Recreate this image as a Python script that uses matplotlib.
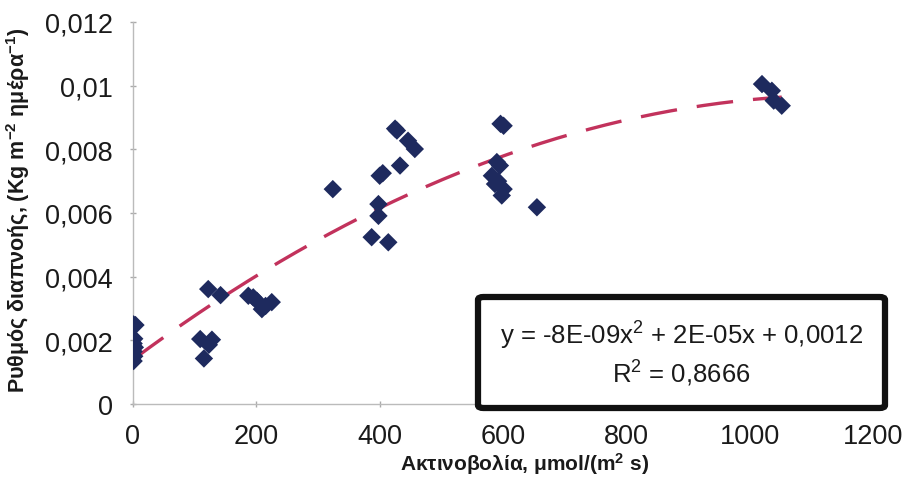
import numpy as np
import matplotlib
matplotlib.use("Agg")
import matplotlib.pyplot as plt
from matplotlib.patches import FancyBboxPatch

plt.rcParams['font.family'] = ['Liberation Sans', 'DejaVu Sans']
plt.rcParams['mathtext.fontset'] = 'custom'
plt.rcParams['mathtext.rm'] = 'Liberation Sans'
plt.rcParams['mathtext.bf'] = 'Liberation Sans:bold'
plt.rcParams['mathtext.default'] = 'regular'

# Radiation (x) and transpiration rate (y)
radiation = [1, 4, 2, 1, 3, 1, 2, 1,
             109, 128, 123, 115, 122, 142,
             187, 195, 201, 209, 215, 225,
             324, 387, 414, 398, 398, 400, 405, 433, 425, 428, 446, 457,
             596, 601, 590, 595, 582, 587, 601, 598, 592, 655,
             1020, 1036, 1039, 1052]
transpiration = [0.00250, 0.00248, 0.00205, 0.00190, 0.00178, 0.00165, 0.00150, 0.00135,
                 0.00204, 0.00202, 0.00186, 0.00143, 0.00361, 0.00342,
                 0.00340, 0.00335, 0.00324, 0.00298, 0.00308, 0.00320,
                 0.00675, 0.00524, 0.00508, 0.00628, 0.00591, 0.00717, 0.00725, 0.00749, 0.00865, 0.00859, 0.00827, 0.00801,
                 0.00880, 0.00874, 0.00760, 0.00749, 0.00717, 0.00691, 0.00675, 0.00655, 0.00700, 0.00618,
                 0.01005, 0.00984, 0.00953, 0.00937]

x_ticks = [0, 200, 400, 600, 800, 1000, 1200]
y_ticks = [0, 0.002, 0.004, 0.006, 0.008, 0.01, 0.012]

equation_text = "y = -8E-09x$^2$ + 2E-05x + 0,0012"
r2_text = "R$^2$ = 0,8666"

W, H = 909, 481
fig = plt.figure(figsize=(W / 100, H / 100), dpi=100)
ax = fig.add_axes([133 / W, 1 - 405 / H, (873 - 133) / W, (405 - 23) / H])

x = np.array(radiation)
y = np.array(transpiration)

coef = np.polyfit(x, y, 2)
xs = np.linspace(x.min(), x.max(), 200)
ax.plot(xs, np.polyval(coef, xs), color='#C2325C', lw=2.4,
        dashes=(11, 6), zorder=2)

ax.scatter(x, y, marker='D', s=88, color='#1E2A5E', edgecolors='none', zorder=3)

ax.set_xlim(0, 1200)
ax.set_ylim(0, 0.012)
ax.set_xticks(x_ticks)
ax.set_yticks(y_ticks)
ax.set_xticklabels([f"{v:g}" for v in x_ticks])
ax.set_yticklabels([f"{v:g}".replace('.', ',') for v in y_ticks])
ax.tick_params(labelsize=19.5, colors='#AAAAAA', labelcolor='#1a1a1a',
               length=5, direction='inout', width=1)
ax.tick_params(axis='x', pad=11)
ax.tick_params(axis='y', pad=12)

for s in ['top', 'right']:
    ax.spines[s].set_visible(False)
for s in ['left', 'bottom']:
    ax.spines[s].set_color('#BBBBBB')
    ax.spines[s].set_linewidth(1)

axw, axh = 873 - 133, 405 - 23
ax.set_xlabel("Ακτινοβολία, μmol/(m$^2$ s)", fontsize=15, fontweight='bold',
              color='#1a1a1a')
ax.xaxis.set_label_coords((525 - 133) / axw, -(451 - 405) / axh)
ax.set_ylabel("Ρυθμός διαπνοής, (Kg m$^{-2}$ ημέρα$^{-1}$)", fontsize=15.5,
              fontweight='bold', color='#1a1a1a')
ax.yaxis.set_label_coords(-(133 - 32) / axw, (405 - 210) / axh)

# Equation box
bx0, bx1, by0, by1 = 478, 885, 298, 409
box = FancyBboxPatch((bx0 / W, 1 - by1 / H), (bx1 - bx0) / W, (by1 - by0) / H,
                     boxstyle="round,pad=0,rounding_size=0.006",
                     transform=fig.transFigure,
                     facecolor='white', edgecolor='#111111', lw=4.5, zorder=5)
fig.patches.append(box)
fig.text((bx0 + bx1) / 2 / W, 1 - 336 / H, equation_text, ha='center', va='center',
         fontsize=18.5, color='#1a1a1a', zorder=6)
fig.text((bx0 + bx1) / 2 / W, 1 - 374 / H, r2_text, ha='center', va='center',
         fontsize=18.5, color='#1a1a1a', zorder=6)

fig.savefig("out.png", dpi=100)
